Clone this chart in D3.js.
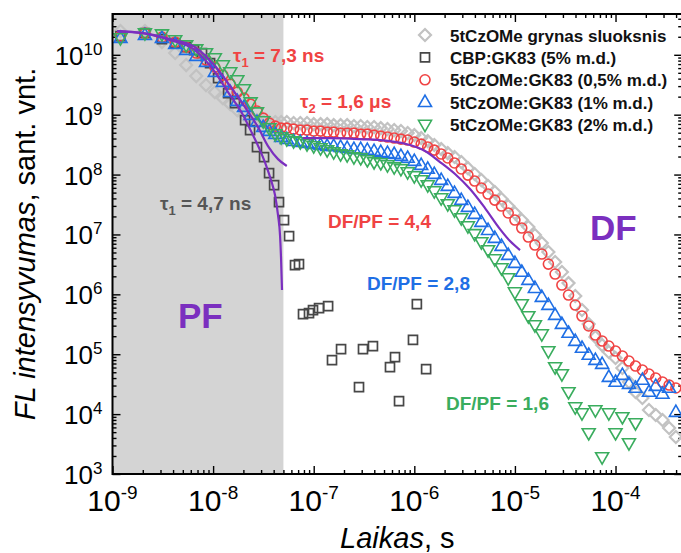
<!DOCTYPE html>
<html>
<head>
<meta charset="utf-8">
<script src="https://cdn.jsdelivr.net/npm/d3@7"></script>
<style>
  html, body { margin: 0; padding: 0; background: #fff; }
  svg { display: block; font-family: "Liberation Sans", Arial, Helvetica, sans-serif; }
</style>
</head>
<body>
<svg id="chart" width="681" height="553"></svg>
<script>
// ---- data -------------------------------------------------------------
// Delay times (s) shared by the four 5tCzOMe films
const time = [
  1.2e-9, 2.1e-9, 3.1e-9, 4.2e-9, 5.4e-9, 6.8e-9, 8.5e-9, 1.04e-8, 1.25e-8, 1.48e-8,
  1.74e-8, 2.03e-8, 2.36e-8, 2.73e-8, 3.15e-8, 3.62e-8, 4.15e-8, 4.75e-8, 5.4e-8,
  6.31e-8, 7.36e-8, 8.58e-8,
  1.0e-7, 1.17e-7, 1.36e-7, 1.58e-7, 1.85e-7, 2.15e-7, 2.51e-7, 2.93e-7, 3.41e-7, 3.98e-7, 4.64e-7, 5.41e-7, 6.31e-7, 7.36e-7, 8.58e-7,
  1.0e-6, 1.17e-6, 1.36e-6, 1.58e-6, 1.85e-6, 2.15e-6, 2.51e-6, 2.93e-6, 3.41e-6, 3.98e-6, 4.64e-6, 5.41e-6, 6.31e-6, 7.36e-6, 8.58e-6,
  1.0e-5, 1.17e-5, 1.36e-5, 1.58e-5, 1.85e-5, 2.15e-5, 2.51e-5, 2.93e-5, 3.41e-5, 3.98e-5, 4.64e-5, 5.41e-5, 6.31e-5, 7.36e-5, 8.58e-5,
  1.0e-4, 1.17e-4, 1.36e-4, 1.58e-4, 1.85e-4, 2.15e-4, 2.51e-4, 2.93e-4, 3.41e-4, 3.98e-4
];

// 5tCzOMe grynas sluoksnis
const pureFilm = [
  2.49e10, 2.49e10, 1.63e10, 1.07e10, 6.73e9, 4.41e9, 3.12e9, 2.38e9, 1.89e9, 1.50e9,
  1.19e9, 9.84e8, 8.77e8, 8.12e8, 7.82e8, 7.52e8, 7.52e8, 7.52e8, 7.52e8,
  7.24e8, 7.24e8, 7.24e8,
  6.96e8, 6.96e8, 6.96e8, 6.70e8, 6.70e8, 6.70e8, 6.45e8, 6.45e8, 6.21e8, 6.21e8, 5.97e8, 5.75e8, 5.53e8, 5.32e8, 4.93e8,
  4.56e8, 4.07e8, 3.62e8, 3.11e8, 2.67e8, 2.28e8, 1.96e8, 1.62e8, 1.28e8, 1.02e8, 8.09e7, 6.43e7, 5.10e7, 3.90e7, 2.98e7,
  2.28e7, 1.74e7, 1.33e7, 9.77e6, 7.18e6, 5.08e6, 3.46e6, 2.36e6, 1.54e6, 9.37e5, 5.47e5, 3.19e5, 1.94e5, 1.42e5, 1.09e5,
  8.64e4, 5.88e4, 3.44e4, 2.34e4, 1.86e4, 1.17e4, 9.66e3, 7.97e3, 5.86e3, 4.15e3
];

// 5tCzOMe:GK83 (0,5% m.d.)
const doped05 = [
  2.05e10, 2.30e10, 1.97e10, 1.63e10, 1.34e10, 1.07e10, 8.15e9, 6.23e9, 4.58e9, 3.24e9,
  2.38e9, 1.89e9, 1.50e9, 1.15e9, 8.77e8, 7.24e8, 6.45e8, 5.97e8, 5.97e8,
  5.75e8, 5.53e8, 5.53e8,
  5.32e8, 5.32e8, 5.12e8, 5.12e8, 4.93e8, 4.93e8, 4.93e8, 4.74e8, 4.74e8, 4.56e8, 4.39e8, 4.23e8, 4.07e8, 3.91e8, 3.77e8,
  3.49e8, 3.23e8, 2.88e8, 2.56e8, 2.20e8, 1.89e8, 1.56e8, 1.24e8, 9.80e7, 7.79e7, 5.95e7, 4.73e7, 3.75e7, 2.98e7, 2.28e7,
  1.74e7, 1.28e7, 9.05e6, 6.65e6, 4.71e6, 3.20e6, 2.18e6, 1.43e6, 9.73e5, 6.63e5, 4.34e5, 2.96e5, 2.09e5, 1.66e5, 1.37e5,
  1.13e5, 9.33e4, 7.70e4, 6.35e4, 5.45e4, 4.67e4, 4.01e4, 3.44e4, 3.06e4, 2.73e4
];

// 5tCzOMe:GK83 (1% m.d.)
const doped1 = [
  1.90e10, 2.13e10, 1.90e10, 1.51e10, 1.20e10, 9.51e9, 7.55e9, 5.14e9, 3.50e9, 2.38e9,
  1.69e9, 1.34e9, 9.84e8, 7.52e8, 6.21e8, 5.32e8, 4.74e8, 4.23e8, 3.91e8,
  3.62e8, 3.49e8, 3.36e8,
  3.23e8, 3.11e8, 2.99e8, 2.99e8, 2.88e8, 2.77e8, 2.67e8, 2.67e8, 2.56e8, 2.47e8, 2.37e8, 2.28e8, 2.20e8, 2.04e8, 1.89e8,
  1.68e8, 1.44e8, 1.24e8, 1.02e8, 8.09e7, 6.43e7, 4.91e7, 3.75e7, 2.87e7, 2.19e7, 1.61e7, 1.18e7, 8.71e6, 6.40e6, 4.53e6,
  3.33e6, 2.36e6, 1.73e6, 1.27e6, 9.01e5, 6.63e5, 4.51e5, 3.19e5, 2.26e5, 1.66e5, 1.27e5, 9.70e4, 8.00e4, 6.86e4, 4.16e4,
  3.44e4, 4.49e4, 3.18e4, 2.73e4, 3.71e4, 2.34e4, 2.94e4, 2.17e4, 2.73e4, 1.08e4
];

// 5tCzOMe:GK83 (2% m.d.)
const doped2 = [
  1.90e10, 2.30e10, 2.21e10, 1.76e10, 1.45e10, 1.24e10, 1.07e10, 8.81e9, 6.73e9, 5.14e9,
  3.78e9, 2.68e9, 1.62e9, 1.10e9, 7.82e8, 5.97e8, 4.74e8, 4.23e8, 3.91e8,
  3.62e8, 3.49e8, 3.23e8,
  2.99e8, 2.77e8, 2.56e8, 2.37e8, 2.20e8, 2.12e8, 1.96e8, 1.89e8, 1.75e8, 1.62e8, 1.56e8, 1.44e8, 1.33e8, 1.24e8, 1.10e8,
  9.44e7, 8.09e7, 6.68e7, 5.30e7, 4.05e7, 3.22e7, 2.55e7, 1.88e7, 1.38e7, 1.02e7, 7.47e6, 5.49e6, 3.88e6, 2.75e6, 1.87e6,
  1.09e6, 6.89e5, 4.34e5, 3.07e5, 2.17e5, 1.13e5, 6.11e4, 4.67e4, 2.34e4, 1.31e4, 1.04e4, 4.84e3, 1.17e4, 1.92e3, 1.04e4,
  4.84e3, 8.95e3, 3.29e3, 7.10e3, null, null, null, null, null, null
];

// CBP:GK83 (5% m.d.)
const cbpTime = [
  1.2e-9, 2.1e-9, 3.1e-9, 4.2e-9, 5.4e-9, 6.46e-9, 7.76e-9, 9.33e-9, 1.12e-8, 1.41e-8,
  1.65e-8, 2.08e-8, 2.33e-8, 2.73e-8, 3.21e-8, 3.60e-8, 4.04e-8, 4.52e-8, 5.07e-8, 5.69e-8,
  6.52e-8, 7.14e-8, 7.83e-8, 8.98e-8, 9.84e-8, 1.13e-7, 1.39e-7, 1.52e-7, 1.87e-7, 2.82e-7,
  3.09e-7, 3.88e-7, 5.73e-7, 6.43e-7, 7.05e-7, 9.7e-7, 1.06e-6, 1.31e-6
];
const cbpFilm = [
  2.05e10, 2.30e10, 1.83e10, 1.57e10, 1.34e10, 1.20e10, 1.07e10, 7.27e9, 4.08e9, 2.29e9,
  1.56e9, 8.12e8, 5.53e8, 2.88e8, 1.96e8, 1.06e8, 6.68e7, 3.47e7, 1.74e7, 9.40e6,
  3.08e6, 3.20e6, 4.69e5, 4.87e5, 5.47e5, 5.90e5, 6.38e5, 8.00e4, 1.22e5, 2.83e4,
  1.22e5, 1.37e5, 6.11e4, 8.98e4, 1.65e4, 1.73e5, 6.89e5, 5.66e4
];

// Fitted decays
const fitCbpTime = [1.11e-9, 2.01e-9, 3.73e-9, 6.61e-9, 1.044e-8, 1.406e-8, 1.938e-8, 2.435e-8, 2.924e-8, 3.355e-8, 3.763e-8, 4.124e-8, 4.417e-8, 4.624e-8, 4.73e-8, 4.84e-8];
const fitCbpI    = [2.49e10, 2.30e10, 1.76e10, 1.20e10, 5.14e9, 2.38e9, 1.06e9, 4.93e8, 2.56e8, 1.44e8, 8.09e7, 4.55e7, 2.11e7, 9.77e6, 4.19e6, 1.18e6];
const fitPfTime  = [1.11e-9, 2.01e-9, 3.73e-9, 6.61e-9, 1.044e-8, 1.406e-8, 2.075e-8, 2.794e-8, 3.513e-8, 4.417e-8, 5.40e-8];
const fitPfI     = [2.49e10, 2.30e10, 1.83e10, 1.34e10, 6.48e9, 3.37e9, 1.34e9, 6.21e8, 2.99e8, 1.81e8, 1.39e8];
const fitDfTime  = [7.83e-8, 1.452e-7, 2.885e-7, 5.733e-7, 9.06e-7, 1.278e-6, 1.80e-6, 2.54e-6, 3.58e-6, 5.04e-6, 7.11e-6, 8.94e-6, 1.124e-5];
const fitDfI     = [4.07e8, 4.07e8, 3.91e8, 3.62e8, 3.11e8, 2.47e8, 1.62e8, 1.02e8, 5.73e7, 2.76e7, 1.23e7, 7.76e6, 5.49e6];

// Prompt fluorescence window (s)
const promptWindow = [1e-9, 5e-8];

// Axis ticks
const xTicks = [1e-9, 1e-8, 1e-7, 1e-6, 1e-5, 1e-4];
const yTicks = [1e3, 1e4, 1e5, 1e6, 1e7, 1e8, 1e9, 1e10];
const xDomain = [1e-9, 4.6e-4];
const yDomain = [1e3, 4.8e10];

const seriesNames = [
  "5tCzOMe grynas sluoksnis",
  "CBP:GK83 (5% m.d.)",
  "5tCzOMe:GK83 (0,5% m.d.)",
  "5tCzOMe:GK83 (1% m.d.)",
  "5tCzOMe:GK83 (2% m.d.)"
];

// ---- styling ----------------------------------------------------------
const RED = "#f04343", BLUE = "#1f6fe5", GREEN = "#3aad5e", GRAY = "#c2c2c2",
      DARK = "#474747", PURPLE = "#7b2fbf", TEXTGRAY = "#555555";

const shapes = {
  diamond: "M0,-6L6,0L0,6L-6,0Z",
  square: "M-4.5,-4.5H4.5V4.5H-4.5Z",
  circle: "M5,0A5,5 0 1,1 -5,0A5,5 0 1,1 5,0Z",
  up: "M0,-7L6.5,4.3L-6.5,4.3Z",
  down: "M0,7L6.5,-4.3L-6.5,-4.3Z"
};

const series = [
  { name: seriesNames[0], t: time,    v: pureFilm, shape: "diamond", color: GRAY, sw: 2.2 },
  { name: seriesNames[1], t: cbpTime, v: cbpFilm,  shape: "square",  color: DARK, sw: 1.7 },
  { name: seriesNames[2], t: time,    v: doped05,  shape: "circle",  color: RED,  sw: 1.6 },
  { name: seriesNames[3], t: time,    v: doped1,   shape: "up",      color: BLUE, sw: 1.6 },
  { name: seriesNames[4], t: time,    v: doped2,   shape: "down",    color: GREEN, sw: 1.6 }
];

// ---- scales -----------------------------------------------------------
const plot = { left: 112.5, right: 682.2, top: 14, bottom: 474 };
const x = d3.scaleLog().domain(xDomain).range([plot.left, plot.right]);
const y = d3.scaleLog().domain(yDomain).range([plot.bottom, plot.top]);

const svg = d3.select("#chart");

svg.append("defs").append("clipPath").attr("id", "plotClip")
  .append("rect")
  .attr("x", plot.left).attr("y", plot.top)
  .attr("width", plot.right - plot.left).attr("height", plot.bottom - plot.top);

// shaded prompt-fluorescence region
svg.append("rect")
  .attr("x", x(promptWindow[0]))
  .attr("y", plot.top)
  .attr("width", x(promptWindow[1]) - x(promptWindow[0]))
  .attr("height", plot.bottom - plot.top)
  .attr("fill", "#d4d4d4");

// ---- axes -------------------------------------------------------------
const isMajor = v => Math.abs(Math.log10(v) - Math.round(Math.log10(v))) < 1e-6;
const xMinor = x.ticks().filter(v => !isMajor(v));
const yMinor = y.ticks().filter(v => !isMajor(v));

function tickSet(axis, transform, values, len) {
  svg.append("g")
    .attr("transform", transform)
    .call(axis.tickValues(values).tickSize(len).tickFormat(""))
    .call(g => g.select(".domain").remove())
    .selectAll("line").attr("stroke", "#000").attr("stroke-width", 1.4);
}
// ticks point into the plot on all four sides
tickSet(d3.axisTop(x),    `translate(0,${plot.bottom})`, xTicks, 8);
tickSet(d3.axisTop(x),    `translate(0,${plot.bottom})`, xMinor, 4);
tickSet(d3.axisBottom(x), `translate(0,${plot.top})`,    xTicks, 8);
tickSet(d3.axisBottom(x), `translate(0,${plot.top})`,    xMinor, 4);
tickSet(d3.axisRight(y),  `translate(${plot.left},0)`,   yTicks, 8);
tickSet(d3.axisRight(y),  `translate(${plot.left},0)`,   yMinor, 4);
tickSet(d3.axisLeft(y),   `translate(${plot.right},0)`,  yTicks, 8);
tickSet(d3.axisLeft(y),   `translate(${plot.right},0)`,  yMinor, 4);

// tick labels as powers of ten
const xLab = svg.append("g").selectAll("text").data(xTicks).join("text")
  .attr("x", d => x(d)).attr("y", plot.bottom + 37)
  .attr("text-anchor", "middle").attr("font-size", 30).attr("fill", "#000");
xLab.append("tspan").text("10");
xLab.append("tspan").attr("dy", -12).attr("font-size", 19).text(d => Math.round(Math.log10(d)));

const yLab = svg.append("g").selectAll("text").data(yTicks).join("text")
  .attr("x", plot.left - 10).attr("y", d => y(d) + 10)
  .attr("text-anchor", "end").attr("font-size", 26).attr("fill", "#000");
yLab.append("tspan").text("10");
yLab.append("tspan").attr("dy", -10).attr("font-size", 17).text(d => Math.round(Math.log10(d)));

// axis titles
const xTitle = svg.append("text")
  .attr("x", (plot.left + plot.right) / 2).attr("y", 548)
  .attr("text-anchor", "middle").attr("font-size", 29);
xTitle.append("tspan").attr("font-style", "italic").text("Laikas");
xTitle.append("tspan").text(", s");

const yTitle = svg.append("text")
  .attr("transform", `translate(35,${(plot.top + plot.bottom) / 2}) rotate(-90)`)
  .attr("text-anchor", "middle").attr("font-size", 29);
yTitle.append("tspan").attr("font-style", "italic").text("FL intensyvumas");
yTitle.append("tspan").text(", sant. vnt.");

// ---- data marks -------------------------------------------------------
const marks = svg.append("g").attr("clip-path", "url(#plotClip)");
series.forEach(s => {
  const pts = s.t.map((t, i) => ({ t, v: s.v[i] })).filter(d => d.v != null);
  marks.append("g").selectAll("path").data(pts).join("path")
    .attr("transform", d => `translate(${x(d.t)},${y(d.v)})`)
    .attr("d", shapes[s.shape])
    .attr("fill", "none")
    .attr("stroke", s.color)
    .attr("stroke-width", s.sw);
});

// fitted curves
const fitLine = d3.line().x(d => x(d.t)).y(d => y(d.v)).curve(d3.curveMonotoneX);
[[fitCbpTime, fitCbpI], [fitPfTime, fitPfI], [fitDfTime, fitDfI]].forEach(([ts, vs]) => {
  marks.append("path")
    .datum(ts.map((t, i) => ({ t, v: vs[i] })))
    .attr("d", fitLine)
    .attr("fill", "none")
    .attr("stroke", PURPLE)
    .attr("stroke-width", 2.2);
});

// frame
svg.append("rect")
  .attr("x", plot.left).attr("y", plot.top)
  .attr("width", plot.right - plot.left).attr("height", plot.bottom - plot.top)
  .attr("fill", "none").attr("stroke", "#000").attr("stroke-width", 2);

// ---- legend -----------------------------------------------------------
const legend = svg.append("g").attr("transform", "translate(425,35)");
series.forEach((s, i) => {
  const row = legend.append("g").attr("transform", `translate(0,${i * 22.4})`);
  row.append("path").attr("d", shapes[s.shape])
    .attr("fill", "none").attr("stroke", s.color).attr("stroke-width", s.sw);
  row.append("text").attr("x", 25).attr("y", 6.5)
    .attr("font-size", 17).attr("font-weight", "bold").attr("fill", "#111")
    .text(s.name);
});

// ---- annotations ------------------------------------------------------
function tauLabel(px, py, color, sub, rest) {
  const t = svg.append("text").attr("x", px).attr("y", py)
    .attr("font-size", 19).attr("font-weight", "bold").attr("fill", color);
  t.append("tspan").text("τ");
  t.append("tspan").attr("font-size", 13).attr("dy", 5).text(sub);
  t.append("tspan").attr("dy", -5).text(rest);
}
tauLabel(233, 62, RED, "1", " = 7,3 ns");
tauLabel(300, 108, RED, "2", " = 1,6 μs");
tauLabel(160, 210, TEXTGRAY, "1", " = 4,7 ns");

function plainLabel(px, py, color, size, text) {
  svg.append("text").attr("x", px).attr("y", py)
    .attr("font-size", size).attr("font-weight", "bold").attr("fill", color).text(text);
}
plainLabel(328, 228, RED, 19, "DF/PF = 4,4");
plainLabel(367, 290, BLUE, 19, "DF/PF = 2,8");
plainLabel(446, 410, GREEN, 19, "DF/PF = 1,6");
plainLabel(178, 328, PURPLE, 35, "PF");
plainLabel(590, 240, PURPLE, 35, "DF");
</script>
</body>
</html>
